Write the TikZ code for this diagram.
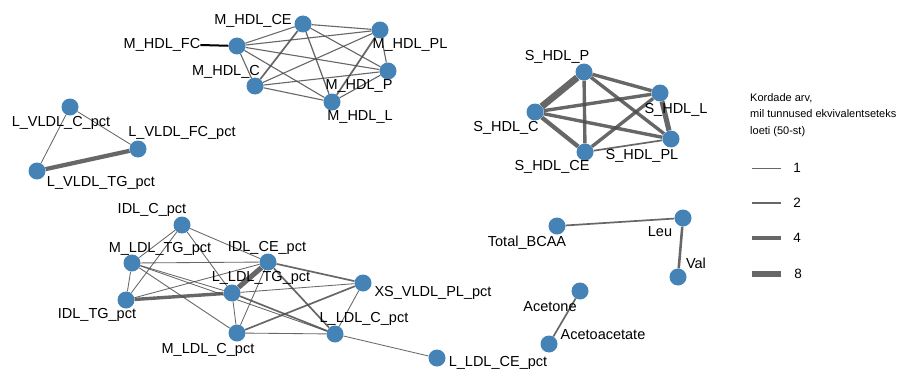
\documentclass[tikz,border=0pt]{standalone}
\usepackage{fontspec}
\setmainfont{Liberation Sans}
\usepackage{tikz}
\usetikzlibrary{backgrounds}
\definecolor{vtxblue}{rgb}{0.27,0.51,0.71}
\definecolor{edgegray}{rgb}{0.30,0.30,0.30}

\begin{document}
\begin{tikzpicture}[
  x=1pt, y=-1pt,
  vtx/.style={circle, fill=vtxblue, minimum size=17pt, inner sep=0pt},
  lbl/.style={font=\fontsize{14.5}{16}\selectfont, inner sep=0pt},
  num/.style={font=\fontsize{13.5}{15}\selectfont, inner sep=0pt},
  wt/.style={draw=edgegray, draw opacity=0.85, line width=#1*0.85pt},
]
\useasboundingbox (0,0) rectangle (902,369);

% M_HDL
\node[vtx] (mce) at (303,24) {};
\node[vtx] (mfc) at (237,46) {};
\node[vtx] (mpl) at (380,30) {};
\node[vtx] (mp) at (388,71) {};
\node[vtx] (mc) at (255,86) {};
\node[vtx] (ml) at (332,102) {};
\node[lbl] (lmce) at (253,21) {M\_HDL\_CE};
\node[lbl] (lmfc) at (162,45) {M\_HDL\_FC};
\node[lbl] (lmpl) at (410,45) {M\_HDL\_PL};
\node[lbl] (lmp) at (359,86) {M\_HDL\_P};
\node[lbl] (lmc) at (226,72) {M\_HDL\_C};
\node[lbl] (lml) at (360,117) {M\_HDL\_L};

% S_HDL
\node[vtx] (sp) at (584,72) {};
\node[vtx] (sl) at (660,93) {};
\node[vtx] (sc) at (535,112) {};
\node[vtx] (spl) at (671,139) {};
\node[vtx] (sce) at (585,152) {};
\node[lbl] (lsp) at (557,57) {S\_HDL\_P};
\node[lbl] (lsl) at (676,110) {S\_HDL\_L};
\node[lbl] (lsc) at (506,128) {S\_HDL\_C};
\node[lbl] (lspl) at (642,156) {S\_HDL\_PL};
\node[lbl] (lsce) at (552,167) {S\_HDL\_CE};

% L_VLDL
\node[vtx] (vc) at (70,107) {};
\node[vtx] (vfc) at (138,149) {};
\node[vtx] (vtg) at (37,171) {};
\node[lbl] (lvc) at (61,123) {L\_VLDL\_C\_pct};
\node[lbl] (lvfc) at (182,133) {L\_VLDL\_FC\_pct};
\node[lbl] (lvtg) at (101,183) {L\_VLDL\_TG\_pct};

% IDL / LDL
\node[vtx] (ic) at (182,225) {};
\node[vtx] (mt) at (132,263) {};
\node[vtx] (ice) at (268,262) {};
\node[vtx] (it) at (126,300) {};
\node[vtx] (lt) at (232,293) {};
\node[vtx] (mlc) at (237,333) {};
\node[vtx] (xs) at (363,283) {};
\node[vtx] (lc) at (335,334) {};
\node[vtx] (lce) at (437,358) {};
\node[lbl] (lic) at (152,210) {IDL\_C\_pct};
\node[lbl] (lmt) at (160,249) {M\_LDL\_TG\_pct};
\node[lbl] (lice) at (267,248) {IDL\_CE\_pct};
\node[lbl] (lit) at (97,315) {IDL\_TG\_pct};
\node[lbl] (llt) at (261,278) {L\_LDL\_TG\_pct};
\node[lbl] (lmlc) at (208,350) {M\_LDL\_C\_pct};
\node[lbl] (lxs) at (433,293) {XS\_VLDL\_PL\_pct};
\node[lbl] (llc) at (364,319) {L\_LDL\_C\_pct};
\node[lbl] (llce) at (498,363) {L\_LDL\_CE\_pct};

% BCAA, ketones
\node[vtx] (tb) at (557,226) {};
\node[vtx] (leu) at (683,218) {};
\node[vtx] (val) at (678,277) {};
\node[vtx] (act) at (580,291) {};
\node[vtx] (aca) at (549,344) {};
\node[lbl] (ltb) at (527,243) {Total\_BCAA};
\node[lbl] (lleu) at (660,232) {Leu};
\node[lbl] (lval) at (696,263) {Val};
\node[lbl] (lact) at (550,307) {Acetone};
\node[lbl] (laca) at (603,335) {Acetoacetate};

\begin{scope}[on background layer]
\draw[wt=1.3] (mce) -- (mpl);
\draw[wt=1.3] (mce) -- (mfc);
\draw[wt=2] (mce) -- (mc);
\draw[wt=1.5] (mce) -- (ml);
\draw[wt=1.3] (mce) -- (mp);
\draw[wt=1.3] (mfc) -- (mpl);
\draw[wt=1.3] (mfc) -- (mp);
\draw[wt=1.3] (mfc) -- (ml);
\draw[wt=1.3] (mfc) -- (mc);
\draw[wt=1.3] (mc) -- (mpl);
\draw[wt=1.3] (mc) -- (mp);
\draw[wt=1.3] (mc) -- (ml);
\draw[wt=1.3] (mpl) -- (mp);
\draw[wt=2] (mpl) -- (ml);
\draw[wt=1.3] (mp) -- (ml);

\draw[wt=8] (sp) -- (sc);
\draw[wt=4] (sp) -- (sl);
\draw[wt=4] (sp) -- (sce);
\draw[wt=4] (sp) -- (spl);
\draw[wt=4] (sc) -- (sl);
\draw[wt=4] (sc) -- (spl);
\draw[wt=5] (sc) -- (sce);
\draw[wt=4] (sce) -- (sl);
\draw[wt=2] (sce) -- (spl);
\draw[wt=6] (sl) -- (spl);

\draw[wt=1] (vc) -- (vfc);
\draw[wt=1] (vc) -- (vtg);
\draw[wt=5] (vfc) -- (vtg);

\draw[wt=1] (ic) -- (mt);
\draw[wt=1] (ic) -- (it);
\draw[wt=1] (ic) -- (lt);
\draw[wt=1] (ic) -- (ice);
\draw[wt=1] (mt) -- (ice);
\draw[wt=1] (mt) -- (it);
\draw[wt=1] (mt) -- (lt);
\draw[wt=1] (mt) -- (mlc);
\draw[wt=1] (mt) -- (lc);
\draw[wt=1] (it) -- (ice);
\draw[wt=4] (it) -- (lt);
\draw[wt=6] (lt) -- (ice);
\draw[wt=1] (lt) -- (xs);
\draw[wt=2] (lt) -- (lc);
\draw[wt=1] (lt) -- (mlc);
\draw[wt=2] (ice) -- (xs);
\draw[wt=2] (ice) -- (lc);
\draw[wt=1] (ice) -- (mlc);
\draw[wt=2] (mlc) -- (xs);
\draw[wt=1] (mlc) -- (lc);
\draw[wt=1] (xs) -- (lc);
\draw[wt=1] (lc) -- (lce);

\draw[wt=2] (tb) -- (leu);
\draw[wt=3] (leu) -- (val);
\draw[wt=2] (act) -- (aca);
\end{scope}
\draw[line width=2pt] (lmfc.east) -- (mfc);

% legend
\node[font=\fontsize{11}{16.5}\selectfont, align=left, inner sep=0pt, anchor=north west] (ttl) at (750,93)
  {Kordade arv,\\mil tunnused ekvivalentseteks\\loeti (50-st)};
\node[num] (k1) at (797,168) {1};
\node[num] (k2) at (797,203) {2};
\node[num] (k4) at (797,238) {4};
\node[num] (k8) at (798,274) {8};
\draw[wt=1] (752,168) -- (781,168);
\draw[wt=2] (752,203) -- (781,203);
\draw[wt=4] (752,238) -- (781,238);
\draw[wt=8] (752,274) -- (781,274);
\end{tikzpicture}
\end{document}
